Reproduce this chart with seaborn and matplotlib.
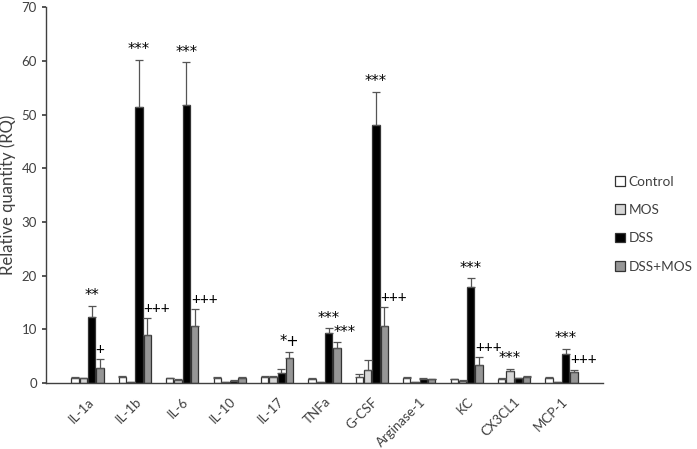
import pandas as pd
import numpy as np
import matplotlib.pyplot as plt
import seaborn as sns

sns.set_theme(style='white')
plt.rcParams['font.family'] = ['Lato', 'DejaVu Sans']

# Datos
genes = ['IL-1a', 'IL-1b', 'IL-6', 'IL-10', 'IL-17', 'TNFa', 'G-CSF',
         'Arginase-1', 'KC', 'CX3CL1', 'MCP-1']
groups = ['Control', 'MOS', 'DSS', 'DSS+MOS']

control = [1.0, 1.2, 0.9, 1.0, 1.1, 0.8, 1.2, 1.0, 0.7, 0.8, 1.0]
mos = [0.9, 0.2, 0.6, 0.2, 1.1, 0.2, 2.4, 0.1, 0.4, 2.3, 0.1]
dss = [12.2, 51.4, 51.8, 0.4, 1.9, 9.3, 48.0, 0.8, 17.8, 0.9, 5.4]
dss_mos = [2.8, 9.0, 10.6, 1.0, 4.7, 6.6, 10.6, 0.7, 3.4, 1.2, 2.1]

control_err = [0.1, 0.1, 0.1, 0.1, 0.2, 0.1, 0.5, 0.1, 0.1, 0.1, 0.1]
mos_err = [0.1, 0.05, 0.1, 0.05, 0.2, 0.05, 1.8, 0.05, 0.1, 0.3, 0.05]
dss_err = [2.2, 8.8, 7.9, 0.2, 0.7, 0.9, 6.2, 0.1, 1.7, 0.1, 0.9]
dss_mos_err = [1.7, 3.1, 3.1, 0.1, 1.1, 1.0, 3.5, 0.1, 1.5, 0.1, 0.4]

# Anotaciones de significancia: (gen, grupo, texto, alineacion)
annotations = [
    ('IL-1a', 'DSS', '**', 'center'), ('IL-1a', 'DSS+MOS', '+', 'center'),
    ('IL-1b', 'DSS', '***', 'center'), ('IL-1b', 'DSS+MOS', '+++', 'left'),
    ('IL-6', 'DSS', '***', 'center'), ('IL-6', 'DSS+MOS', '+++', 'left'),
    ('IL-17', 'DSS+MOS', '*+', 'center'),
    ('TNFa', 'DSS', '***', 'center'), ('TNFa', 'DSS+MOS', '***', 'left'),
    ('G-CSF', 'DSS', '***', 'center'), ('G-CSF', 'DSS+MOS', '+++', 'left'),
    ('KC', 'DSS', '***', 'center'), ('KC', 'DSS+MOS', '+++', 'left'),
    ('CX3CL1', 'MOS', '***', 'center'),
    ('MCP-1', 'DSS', '***', 'center'), ('MCP-1', 'DSS+MOS', '+++', 'left'),
]

values = {'Control': control, 'MOS': mos, 'DSS': dss, 'DSS+MOS': dss_mos}
errors = {'Control': control_err, 'MOS': mos_err, 'DSS': dss_err, 'DSS+MOS': dss_mos_err}

df = pd.DataFrame([(g, grp, values[grp][i]) for grp in groups for i, g in enumerate(genes)],
                  columns=['gene', 'group', 'RQ'])

colors = {'Control': '#ffffff', 'MOS': '#d6d6d6', 'DSS': '#000000', 'DSS+MOS': '#969696'}

fig = plt.figure(figsize=(6.97, 4.49), dpi=100)
ax = fig.add_axes([0.066, 0.147, 0.799, 0.837])

sns.barplot(data=df, x='gene', y='RQ', hue='group', hue_order=groups, order=genes,
            palette=colors, edgecolor='#333333', linewidth=0.9, width=0.7, gap=0.12,
            errorbar=None, ax=ax, legend=False)

# Barras de error (solo hacia arriba) y posiciones para las anotaciones
tops = {}
for grp, cont in zip(groups, ax.containers):
    for i, bar in enumerate(cont):
        xc = bar.get_x() + bar.get_width() / 2
        h = bar.get_height()
        e = errors[grp][i]
        ax.errorbar(xc, h, yerr=[[0], [e]], fmt='none', ecolor='#555555',
                    elinewidth=0.9, capsize=3, capthick=0.9)
        tops[(genes[i], grp)] = (xc, h + e, bar.get_x())

for gene, grp, txt, ha in annotations:
    xc, top, xl = tops[(gene, grp)]
    x = xl if ha == 'left' else xc
    if '+' in txt and '*' not in txt:
        ax.text(x, top + 0.4, txt, ha=ha, va='bottom', fontsize=11, color='black')
    else:
        ax.text(x, top + 0.5, txt, ha=ha, va='bottom', fontsize=10.5, color='black',
                family=['DejaVu Sans'])

ax.set_ylim(0, 70)
ax.set_yticks(range(0, 71, 10))
ax.set_xlabel('')
ax.set_ylabel('Relative quantity (RQ)', fontsize=12, color='#404040')
ax.tick_params(axis='y', left=True, length=3, color='#404040', labelsize=9.5, labelcolor='#404040')
ax.tick_params(axis='x', bottom=False, labelsize=9.5, labelcolor='#404040', pad=3)
plt.setp(ax.get_xticklabels(), rotation=45, ha='right', rotation_mode='anchor')
for s in ['top', 'right']:
    ax.spines[s].set_visible(False)
for s in ['left', 'bottom']:
    ax.spines[s].set_color('#404040')
    ax.spines[s].set_linewidth(1.0)

# Leyenda fuera de los ejes
handles = [plt.Rectangle((0, 0), 1, 1, facecolor=colors[g], edgecolor='#333333', linewidth=0.9)
           for g in groups]
fig.legend(handles, groups, loc='upper left', bbox_to_anchor=(0.878, 0.615), frameon=False,
           fontsize=9.8, handlelength=0.75, handleheight=0.75, handletextpad=0.25,
           labelspacing=1.2, labelcolor='#404040', borderaxespad=0, borderpad=0.2)

fig.savefig('out.png', dpi=100)
